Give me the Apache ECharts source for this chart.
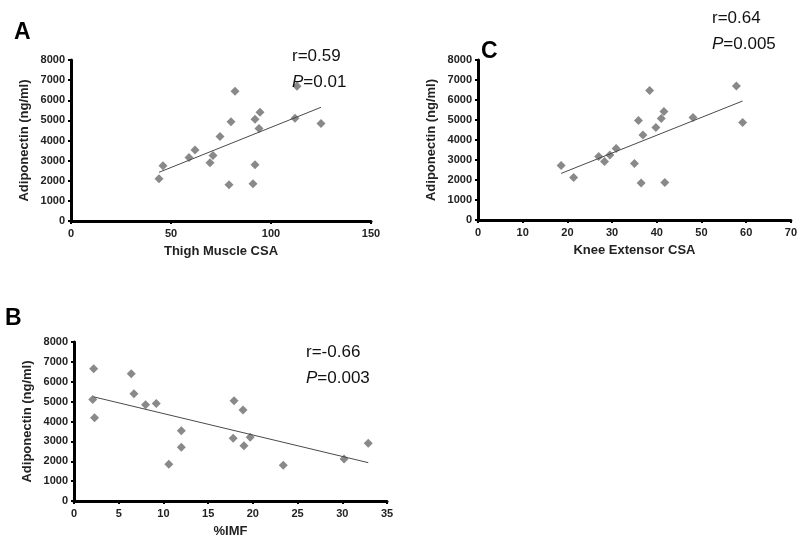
<!DOCTYPE html>
<html>
<head>
<meta charset="utf-8">
<script src="https://cdn.jsdelivr.net/npm/echarts@6/dist/echarts.min.js"></script>
<style>
    html, body { margin: 0; padding: 0; background: #fff; }
    #main { width: 800px; height: 539px; }
</style>
</head>
<body>
<div id="main"></div>
<script>
// panel A: thigh muscle CSA vs adiponectin
var thighCSA = [44, 46, 59, 62, 69.5, 71, 74.5, 79, 80, 82, 91, 92, 92, 94, 94.5, 112, 113, 125];
var adipoA = [2100, 2740, 3150, 3530, 2900, 3250, 4200, 1800, 4930, 6450, 1850, 2800, 5050, 4600, 5400, 5100, 6700, 4850];
var trendA = [[44, 2420], [125, 5650]];

// panel C: knee extensor CSA vs adiponectin
var kneeCSA = [18.6, 21.4, 27, 28.3, 29.5, 30.9, 35, 35.9, 36.5, 36.9, 38.4, 39.8, 41, 41.6, 41.8, 48.1, 57.8, 59.2];
var adipoC = [2730, 2120, 3180, 2930, 3250, 3580, 2820, 4970, 1850, 4250, 6470, 4620, 5070, 5430, 1880, 5130, 6700, 4870];
var trendC = [[18.6, 2330], [59.2, 5950]];

// panel B: %IMF vs adiponectin
var imf = [2.2, 2.1, 2.3, 6.4, 6.7, 8, 9.2, 10.6, 12, 12, 17.8, 17.9, 18.9, 19, 19.7, 23.4, 30.2, 32.9];
var adipoB = [6650, 5110, 4190, 6400, 5390, 4840, 4910, 1850, 3540, 2700, 3160, 5040, 4580, 2780, 3210, 1800, 2110, 2910];
var trendB = [[2.2, 5240], [32.9, 1930]];

var stats = [
    {r: 'r=0.59', p: '=0.01', left: 287, top: 38},
    {r: 'r=0.64', p: '=0.005', left: 707, top: 0},
    {r: 'r=-0.66', p: '=0.003', left: 301, top: 334}
];
var letters = [
    {t: 'A', left: 9, top: 16},
    {t: 'C', left: 476, top: 35},
    {t: 'B', left: 0, top: 302}
];

function zip(xs, ys) {
    var out = [];
    for (var i = 0; i < xs.length; i++) out.push([xs[i], ys[i]]);
    return out;
}

var tickFont = {color: '#222', fontWeight: 'bold', fontSize: 11, fontFamily: 'Liberation Sans'};
var nameFont = {color: '#222', fontWeight: 'bold', fontSize: 13, fontFamily: 'Liberation Sans'};
var axisLine = {show: true, onZero: false, lineStyle: {color: '#000', width: 3}};
var axisTick = {show: true, inside: false, length: 3, lineStyle: {color: '#000', width: 2}};

function plain(v) {
    return String(v); // no thousands separator
}

function xAxis(idx, max, interval, name) {
    return {
        type: 'value', gridIndex: idx, min: 0, max: max, interval: interval,
        name: name, nameLocation: 'middle', nameGap: 24, nameTextStyle: nameFont,
        axisLine: axisLine, axisTick: axisTick, splitLine: {show: false},
        axisLabel: Object.assign({margin: 7, formatter: plain}, tickFont)
    };
}

function yAxis(idx) {
    return {
        type: 'value', gridIndex: idx, min: 0, max: 8000, interval: 1000,
        name: 'Adiponectin (ng/ml)', nameLocation: 'middle', nameGap: 40, nameTextStyle: nameFont,
        axisLine: axisLine, axisTick: axisTick, splitLine: {show: false},
        axisLabel: Object.assign({margin: 6, formatter: plain}, tickFont)
    };
}

function scatter(idx, data) {
    return {
        type: 'scatter', xAxisIndex: idx, yAxisIndex: idx, data: data,
        symbol: 'diamond', symbolSize: 9,
        itemStyle: {color: '#6b6b6b'}
    };
}

function trend(idx, data) {
    return {
        type: 'line', xAxisIndex: idx, yAxisIndex: idx, data: data,
        symbol: 'none', silent: true,
        lineStyle: {color: '#4a4a4a', width: 1}
    };
}

var titles = [];
stats.forEach(function (s) {
    titles.push({
        text: s.r + '\n{i|P}' + s.p,
        left: s.left, top: s.top,
        textStyle: {
            color: '#111', fontWeight: 'normal', fontSize: 17, fontFamily: 'Liberation Sans',
            lineHeight: 26,
            rich: {i: {fontStyle: 'italic', fontSize: 17, fontFamily: 'Liberation Sans', color: '#111'}}
        }
    });
});
letters.forEach(function (l) {
    titles.push({
        text: l.t, left: l.left, top: l.top,
        textStyle: {color: '#000', fontWeight: 'bold', fontSize: 23, fontFamily: 'Liberation Sans'}
    });
});

var myChart = echarts.init(document.getElementById('main'));
var option = {
    animation: false,
    backgroundColor: '#fff',
    title: titles,
    grid: [
        {left: 71, top: 60, width: 300, height: 161},
        {left: 478, top: 60, width: 315, height: 160},
        {left: 74, top: 342, width: 313, height: 161}
    ],
    xAxis: [
        xAxis(0, 150, 50, 'Thigh Muscle CSA'),
        xAxis(1, 70, 10, 'Knee Extensor CSA'),
        xAxis(2, 35, 5, '%IMF')
    ],
    yAxis: [yAxis(0), yAxis(1), yAxis(2)],
    series: [
        trend(0, trendA),
        scatter(0, zip(thighCSA, adipoA)),
        trend(1, trendC),
        scatter(1, zip(kneeCSA, adipoC)),
        trend(2, trendB),
        scatter(2, zip(imf, adipoB))
    ]
};
myChart.setOption(option);
</script>
</body>
</html>
